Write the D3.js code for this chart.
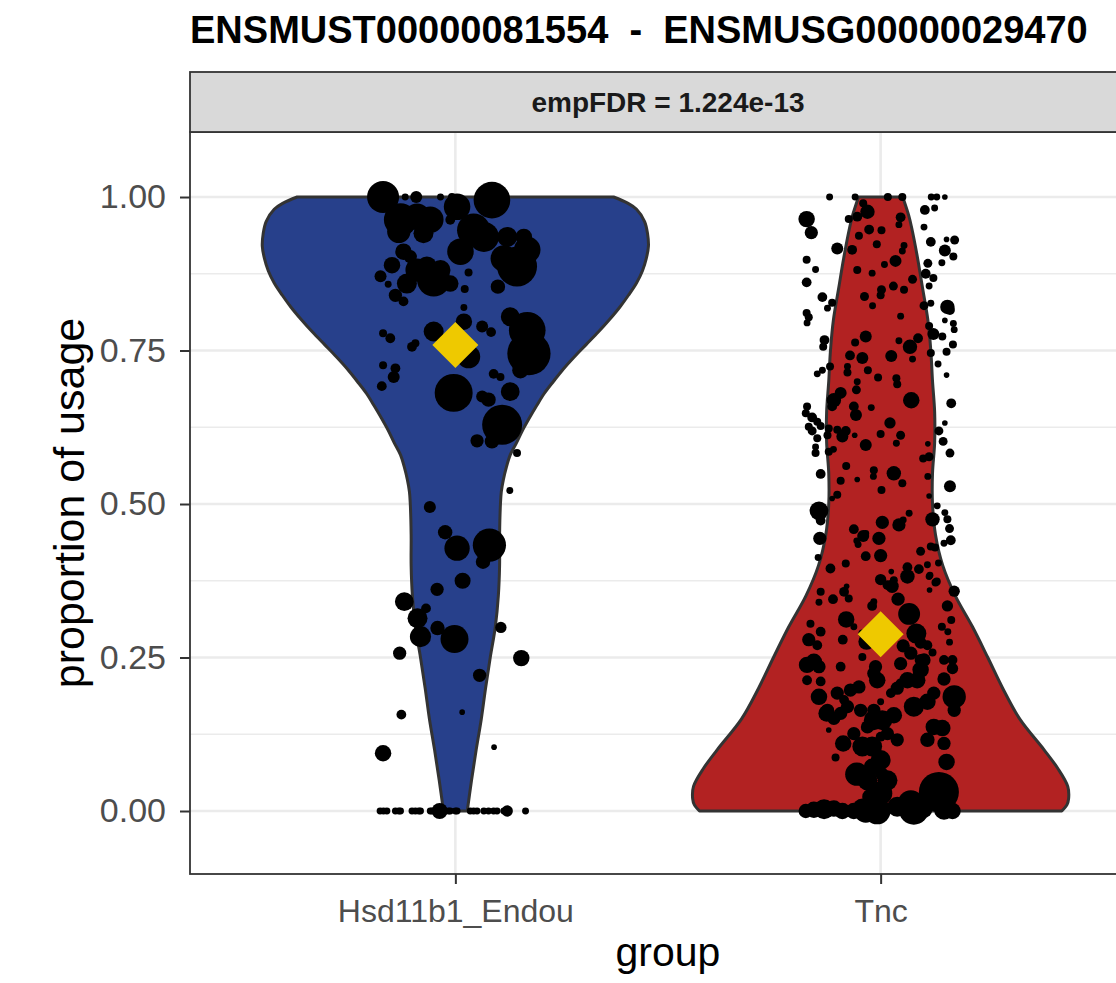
<!DOCTYPE html>
<html>
<head>
<meta charset="utf-8">
<script src="https://cdn.jsdelivr.net/npm/d3@7"></script>
<style>
  body { margin: 0; background: #fff; }
  svg { display: block; font-family: "Liberation Sans", Arial, Helvetica, sans-serif; }
</style>
</head>
<body>
<svg id="chart"></svg>
<script>
const width = 1116,
  height = 983;

// chart data
const groups = ["Hsd11b1_Endou", "Tnc"];
const meanUsage = [0.759, 0.288];
const yTicks = [0, 0.25, 0.5, 0.75, 1];
const yMinor = [0.125, 0.375, 0.625, 0.875];
const titleText = "ENSMUST00000081554  -  ENSMUSG00000029470";
const stripText = "empFDR = 1.224e-13";

// violin outlines: usage level -> half width (in group units)
const hsdLevels = [0, 0.05, 0.10, 0.15, 0.20, 0.25, 0.30, 0.35, 0.40, 0.45, 0.50, 0.52, 0.54, 0.56, 0.58, 0.60, 0.62, 0.64, 0.66, 0.68, 0.70, 0.72, 0.74, 0.76, 0.78, 0.80, 0.82, 0.84, 0.86, 0.88, 0.90, 0.92, 0.94, 0.96, 0.98, 0.99, 1.00];
const hsdWidth = [0.028, 0.038, 0.049, 0.061, 0.071, 0.082, 0.094, 0.101, 0.104, 0.104, 0.106, 0.108, 0.113, 0.120, 0.129, 0.144, 0.158, 0.174, 0.191, 0.209, 0.231, 0.254, 0.280, 0.308, 0.336, 0.362, 0.386, 0.407, 0.426, 0.440, 0.449, 0.454, 0.452, 0.445, 0.426, 0.405, 0.372];
const tncLevels = [0, 0.01, 0.02, 0.04, 0.07, 0.10, 0.15, 0.20, 0.25, 0.30, 0.35, 0.40, 0.45, 0.50, 0.55, 0.60, 0.65, 0.70, 0.75, 0.80, 0.85, 0.90, 0.95, 0.97, 1.00];
const tncWidth = [0.426, 0.438, 0.442, 0.440, 0.416, 0.384, 0.327, 0.287, 0.252, 0.216, 0.176, 0.146, 0.129, 0.122, 0.122, 0.127, 0.127, 0.122, 0.118, 0.111, 0.099, 0.087, 0.073, 0.066, 0.052];

// points: [jitter, proportion of usage, count]
const hsdPoints = [
  [-0.170,1.000,64],[0.086,0.995,84],[-0.129,0.963,69],[-0.090,0.968,44],[-0.059,0.963,44],[-0.133,0.944,34],[-0.075,0.941,25],
  [-0.092,1.000,9],[-0.118,1.000,3],[-0.035,1.000,3],[-0.008,1.000,4],[0.004,0.984,44],[-0.012,0.963,6],[0.043,0.946,69],
  [0.012,0.911,44],[0.067,0.935,56],[0.122,0.935,25],[0.161,0.935,17],[0.169,0.914,44],[0.145,0.887,100],[0.114,0.900,44],
  [-0.122,0.911,17],[-0.106,0.903,11],[-0.149,0.889,17],[-0.176,0.871,9],[-0.158,0.858,3],[-0.090,0.881,34],[-0.051,0.865,69],
  [-0.067,0.887,25],[-0.035,0.881,25],[-0.012,0.859,17],[-0.114,0.859,25],[-0.141,0.840,11],[-0.122,0.830,6],[0.031,0.877,4],
  [0.022,0.850,4],[0.020,0.820,3],[0.100,0.854,13],[-0.051,0.781,25],[0.020,0.797,17],[0.031,0.740,34],[0.063,0.789,9],
  [0.084,0.780,6],[-0.170,0.778,4],[-0.153,0.770,6],[-0.102,0.756,6],[-0.094,0.762,4],[0.129,0.805,22],[0.169,0.783,84],
  [0.173,0.745,117],[0.153,0.718,17],[-0.170,0.726,4],[-0.141,0.721,6],[-0.145,0.707,9],[-0.173,0.692,6],[-0.004,0.681,90],
  [0.090,0.712,6],[0.106,0.707,4],[0.129,0.683,22],[0.063,0.675,9],[0.078,0.670,13],[0.110,0.629,100],[0.051,0.603,11],
  [0.086,0.602,13],[0.145,0.583,4],
  [0.128,0.522,3],[-0.060,0.495,9],[-0.024,0.454,13],[0.004,0.428,40],[0.080,0.433,69],[0.065,0.406,13],[0.017,0.375,16],
  [-0.043,0.361,11],[-0.120,0.341,22],[-0.069,0.330,6],[-0.089,0.314,25],[-0.082,0.284,28],[-0.042,0.298,13],[-0.002,0.280,49],
  [0.107,0.299,8],[-0.131,0.257,11],[0.155,0.249,17],[0.057,0.221,11],[-0.127,0.157,6],[0.016,0.161,2],[-0.170,0.094,17],
  [0.091,0.104,2],
  [-0.177,0,3],[-0.169,0,3],[-0.161,0,3],[-0.141,0,3],[-0.133,0,3],[-0.129,0,3],[-0.102,0,3],[-0.094,0,3],[-0.086,0,3],
  [-0.082,0,3],[-0.059,0,3],[-0.055,0,3],[-0.047,0,3],[-0.037,0,16],[-0.024,0,3],[-0.016,0,3],[-0.012,0,3],[0.000,0,3],
  [0.004,0,3],[0.035,0,3],[0.043,0,3],[0.051,0,3],[0.067,0,3],[0.078,0,3],[0.090,0,3],[0.098,0,3],[0.114,0,3],[0.122,0,8],
  [0.165,0,3]
];

const tncPoints = [
  [-0.120,1.000,3],[-0.060,1.000,3],[-0.041,0.990,4],[0.017,1.000,4],[0.051,1.000,4],[0.119,1.000,3],[0.132,1.000,3],[0.151,1.000,2],
  [-0.174,0.964,17],[-0.163,0.942,11],[-0.102,0.916,9],[-0.174,0.898,4],[-0.153,0.882,3],[-0.174,0.861,6],[-0.137,0.837,6],
  [-0.114,0.828,4],[-0.125,0.819,3],[-0.174,0.811,4],[-0.169,0.804,4],[-0.173,0.795,3],
  [-0.075,0.964,4],[-0.055,0.968,6],[-0.031,0.976,13],[-0.027,0.947,6],[0.002,0.946,4],[-0.051,0.937,4],[-0.009,0.923,4],
  [0.047,0.967,6],[0.043,0.955,3],[0.055,0.921,3],[0.051,0.912,3],[-0.067,0.914,6],[-0.055,0.881,4],[-0.020,0.876,3],
  [0.009,0.890,3],[0.035,0.896,9],[0.075,0.866,5],
  [0.104,0.979,6],[0.127,0.982,3],[0.102,0.951,3],[0.118,0.927,6],[0.174,0.930,5],[0.155,0.931,2],[0.151,0.913,9],
  [0.171,0.903,4],[0.144,0.893,3],[0.111,0.892,5],[0.106,0.875,6],[0.124,0.868,4],[0.114,0.855,3],
  [0.030,0.855,5],[0.002,0.849,5],[0.000,0.840,4],[0.055,0.849,4],[-0.038,0.838,5],[-0.019,0.823,3],[0.102,0.823,5],
  [0.118,0.827,3],[0.157,0.821,13],[0.163,0.816,6],[0.047,0.806,3],[0.151,0.799,2],[0.171,0.794,3],[0.173,0.784,3],
  [0.114,0.790,4],[0.124,0.777,9],[0.145,0.773,4],[0.170,0.760,4],[0.155,0.748,4],[0.118,0.746,4],
  [-0.035,0.773,9],[-0.060,0.763,4],[-0.132,0.767,6],[-0.135,0.756,4],[0.069,0.756,13],[0.088,0.770,6],[0.043,0.766,3],
  [0.075,0.736,3],[0.025,0.741,9],[-0.043,0.738,9],[-0.072,0.742,6],[-0.078,0.724,3],[-0.119,0.724,4],[-0.137,0.718,3],
  [-0.149,0.712,3],[-0.030,0.718,4],[-0.006,0.706,4],[0.037,0.705,4],[0.039,0.695,4],[-0.055,0.699,3],[-0.057,0.686,5],
  [-0.078,0.714,4],[-0.094,0.681,9],[-0.110,0.669,13],[-0.114,0.659,6],[-0.063,0.659,6],[-0.058,0.645,9],[-0.022,0.657,3],
  [0.072,0.669,17],[0.166,0.664,6],[0.155,0.710,2],[0.135,0.728,3],
  [-0.173,0.659,4],[-0.176,0.648,4],[-0.161,0.641,6],[-0.149,0.634,4],[-0.141,0.627,4],[-0.169,0.626,4],[-0.161,0.619,5],
  [-0.122,0.623,4],[-0.102,0.621,4],[-0.082,0.619,6],[-0.090,0.610,9],[-0.125,0.612,4],[-0.149,0.607,4],[-0.061,0.612,2],
  [0.022,0.632,8],[0.000,0.614,4],[0.047,0.612,5],[0.037,0.599,3],[-0.035,0.596,9],[0.151,0.632,2],[0.137,0.619,5],
  [0.147,0.602,5],[0.111,0.598,2],[0.114,0.577,5],[0.100,0.574,4],[0.163,0.583,5],[-0.153,0.593,3],[-0.153,0.583,4],
  [-0.122,0.585,4],[-0.111,0.589,3],[-0.081,0.562,4],[-0.141,0.549,6],[-0.094,0.538,4],[-0.055,0.540,2],[-0.016,0.555,4],
  [-0.017,0.545,3],[0.031,0.550,13],[0.051,0.534,4],[0.002,0.523,4],[0.111,0.545,3],[0.163,0.529,9],[0.114,0.513,2],
  [-0.102,0.515,4],[-0.114,0.509,2],
  [0.133,0.497,3],[0.151,0.486,3],[0.157,0.475,4],[0.162,0.460,5],[0.165,0.441,6],[0.149,0.436,3],[0.128,0.429,4],
  [0.136,0.404,3],[0.132,0.374,4],[0.116,0.384,3],[0.115,0.360,2],[0.173,0.358,8],[0.157,0.334,8],[0.166,0.311,4],
  [0.144,0.300,4],[0.158,0.292,3],[0.162,0.275,3],[0.110,0.270,6],[0.122,0.258,4],[0.094,0.246,9],[0.149,0.246,6],
  [0.169,0.246,6],[0.169,0.232,8],[0.149,0.215,11],[0.173,0.186,34],[0.173,0.164,11],[0.125,0.192,11],[0.078,0.170,25],
  [0.110,0.178,17],[0.125,0.137,17],[0.145,0.135,17],[0.110,0.116,13],[0.149,0.110,11],[0.155,0.080,17],[0.137,0.031,100],
  [0.149,0.002,25],[0.169,0.000,17],[0.078,0.002,56],[0.071,0.012,44],[0.000,0.029,34],[-0.024,0.023,17],[-0.043,0.004,25],
  [-0.008,0.000,44],[-0.035,0.000,34],[-0.063,0.000,17],[-0.090,0.000,17],[-0.110,0.004,17],[-0.133,0.003,25],
  [-0.157,0.002,17],[-0.176,0.000,13],[-0.056,0.060,34],[-0.020,0.072,17],[0.002,0.061,11],[-0.043,0.105,25],
  [-0.020,0.105,25],[0.000,0.121,6],[0.004,0.148,25],[-0.016,0.148,25],[0.031,0.156,17],[0.016,0.126,11],[0.039,0.116,11],
  [-0.031,0.137,11],[-0.063,0.126,11],[-0.088,0.110,17],[-0.106,0.087,4],[-0.127,0.159,17],[-0.110,0.151,11],
  [-0.122,0.132,2],[-0.145,0.186,17],[-0.125,0.164,11],[-0.094,0.159,11],[-0.078,0.170,11],[-0.047,0.164,11],
  [-0.051,0.202,11],[-0.071,0.197,11],[-0.102,0.192,11],[-0.086,0.181,6],[-0.016,0.164,11],[0.000,0.178,3],[0.039,0.200,11],
  [0.047,0.208,6],[0.024,0.192,6],[0.063,0.213,17],[0.086,0.213,17],[0.094,0.230,17],[0.102,0.246,11],[0.071,0.257,11],
  [0.047,0.240,11],[-0.016,0.224,11],[-0.008,0.213,17],[-0.012,0.235,11],[-0.043,0.251,4],[-0.094,0.235,6],
  [-0.157,0.243,17],[-0.173,0.238,17],[-0.145,0.235,11],[-0.173,0.213,6],[-0.141,0.211,6],[-0.169,0.279,11],
  [-0.149,0.270,6],[-0.141,0.292,6],[-0.165,0.305,4],[-0.089,0.279,6],[-0.081,0.312,17],[-0.063,0.300,3],[-0.033,0.276,17],
  [-0.043,0.289,4],[-0.020,0.334,6],[-0.016,0.341,3],[0.041,0.345,11],[0.067,0.321,30],[0.084,0.289,25],[0.053,0.269,11],
  [0.094,0.274,9],[-0.112,0.345,6],[-0.141,0.357,4],[-0.145,0.340,3],[-0.086,0.357,6],[-0.075,0.346,4],[-0.080,0.366,2],
  [-0.082,0.403,4],[-0.118,0.395,6],[-0.035,0.415,6],[0.000,0.416,11],[0.000,0.377,8],[0.027,0.366,11],[0.016,0.368,6],
  [0.031,0.376,4],[0.025,0.390,2],[0.063,0.382,13],[0.090,0.394,6],[0.063,0.397,6],[0.094,0.423,5],[0.114,0.382,3],
  [0.129,0.372,4],[0.004,0.470,11],[0.043,0.466,11],[0.053,0.474,3],[0.067,0.485,3],[-0.063,0.459,6],[-0.041,0.448,9],
  [-0.056,0.440,3],[-0.053,0.434,3],[-0.004,0.444,11],[-0.035,0.452,3],[-0.145,0.489,22],[-0.141,0.473,6],[-0.143,0.444,11],
  [-0.147,0.413,3],[0.122,0.475,13],[0.118,0.431,4],[0.110,0.401,3],
  [0.000,0.083,25],[-0.031,0.050,25],[0.016,0.050,25],[0.039,0.007,25],[0.102,0.002,17]
];

// layout of the single facet panel
const panel = { left: 190, right: 1146, top: 132, bottom: 874 };

const x = d3.scaleLinear().domain([-0.624, 1.624]).range([panel.left, panel.right]);
const y = d3.scaleLinear().domain([-0.1026, 1.1059]).range([panel.bottom, panel.top]);
const r = d3.scaleSqrt().domain([0, 100]).range([0, 20]);

const fillColors = ["#27408B", "#B22222"];

const svg = d3.select("#chart")
  .attr("width", width)
  .attr("height", height);

// panel background + grid
svg.append("rect")
  .attr("x", panel.left).attr("y", panel.top)
  .attr("width", panel.right - panel.left).attr("height", panel.bottom - panel.top)
  .attr("fill", "#fff");

const grid = svg.append("g");
grid.selectAll("line.minor")
  .data(yMinor)
  .enter().append("line")
  .attr("x1", panel.left).attr("x2", panel.right)
  .attr("y1", d => y(d)).attr("y2", d => y(d))
  .attr("stroke", "#EBEBEB").attr("stroke-width", 1.3);
grid.selectAll("line.major")
  .data(yTicks)
  .enter().append("line")
  .attr("x1", panel.left).attr("x2", panel.right)
  .attr("y1", d => y(d)).attr("y2", d => y(d))
  .attr("stroke", "#EBEBEB").attr("stroke-width", 2.6);
grid.selectAll("line.vert")
  .data(groups)
  .enter().append("line")
  .attr("x1", (d, i) => x(i)).attr("x2", (d, i) => x(i))
  .attr("y1", panel.top).attr("y2", panel.bottom)
  .attr("stroke", "#EBEBEB").attr("stroke-width", 2.6);

// violins
const violins = [
  d3.zip(hsdLevels, hsdWidth),
  d3.zip(tncLevels, tncWidth)
];
violins.forEach((prof, i) => {
  const area = d3.area()
    .curve(d3.curveCatmullRom)
    .y(d => y(d[0]))
    .x0(d => x(i - d[1]))
    .x1(d => x(i + d[1]));
  svg.append("path")
    .attr("d", area(prof))
    .attr("fill", fillColors[i])
    .attr("stroke", "#333333")
    .attr("stroke-width", 3)
    .attr("stroke-linejoin", "round");
});

// jittered points
[hsdPoints, tncPoints].forEach((pts, i) => {
  svg.append("g").selectAll("circle")
    .data(pts)
    .enter().append("circle")
    .attr("cx", d => x(i + d[0]))
    .attr("cy", d => y(d[1]))
    .attr("r", d => r(d[2]))
    .attr("fill", "#000");
});

// group means
svg.append("g").selectAll("path")
  .data(meanUsage)
  .enter().append("path")
  .attr("d", d3.symbol(d3.symbolSquare, 1060))
  .attr("transform", (d, i) => "translate(" + x(i) + "," + y(d) + ") rotate(45)")
  .attr("fill", "#EEC900");

// panel border
svg.append("rect")
  .attr("x", panel.left).attr("y", panel.top)
  .attr("width", panel.right - panel.left).attr("height", panel.bottom - panel.top)
  .attr("fill", "none")
  .attr("stroke", "#333333").attr("stroke-width", 1.8);

// facet strip
svg.append("rect")
  .attr("x", panel.left).attr("y", 72)
  .attr("width", panel.right - panel.left).attr("height", panel.top - 72)
  .attr("fill", "#D9D9D9")
  .attr("stroke", "#333333").attr("stroke-width", 1.8);
svg.append("text")
  .attr("x", (panel.left + panel.right) / 2)
  .attr("y", 112)
  .attr("text-anchor", "middle")
  .attr("font-size", 28)
  .attr("font-weight", "bold")
  .attr("fill", "#1A1A1A")
  .text(stripText);

// axes
const yAxis = svg.append("g")
  .attr("transform", "translate(" + panel.left + ",0)")
  .call(d3.axisLeft(y).tickValues(yTicks).tickFormat(d3.format(".2f")).tickSize(10).tickPadding(14));
const xAxis = svg.append("g")
  .attr("transform", "translate(0," + panel.bottom + ")")
  .call(d3.axisBottom(x).tickValues([0, 1]).tickFormat(i => groups[i]).tickSize(10).tickPadding(15));
[yAxis, xAxis].forEach(ax => {
  ax.select(".domain").remove();
  ax.selectAll(".tick line").attr("stroke", "#333333").attr("stroke-width", 2);
  ax.selectAll(".tick text").attr("fill", "#4D4D4D").attr("font-family", null);
});
yAxis.attr("font-size", 34);
xAxis.attr("font-size", 32);

// titles
svg.append("text")
  .attr("x", panel.left)
  .attr("y", 43)
  .attr("font-size", 38)
  .attr("font-weight", "bold")
  .style("white-space", "pre")
  .text(titleText);

svg.append("text")
  .attr("x", (panel.left + panel.right) / 2)
  .attr("y", 966)
  .attr("text-anchor", "middle")
  .attr("font-size", 41)
  .text("group");

svg.append("text")
  .attr("transform", "translate(84," + (panel.top + panel.bottom) / 2 + ") rotate(-90)")
  .attr("text-anchor", "middle")
  .attr("font-size", 43)
  .text("proportion of usage");
</script>
</body>
</html>
